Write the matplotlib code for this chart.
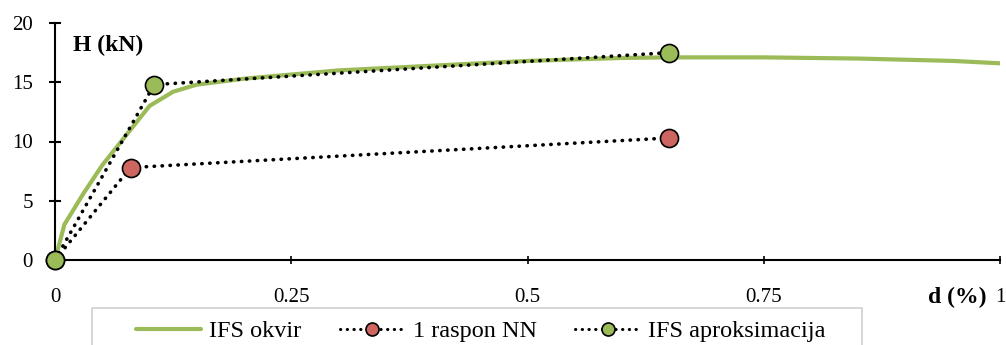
import matplotlib
matplotlib.use("Agg")
import matplotlib.pyplot as plt
from matplotlib.patches import Rectangle

# IFS okvir (pushover curve)
okvir_d = [0.0, 0.01, 0.03, 0.05, 0.075, 0.1, 0.125, 0.15, 0.2, 0.3, 0.4, 0.5, 0.6, 0.65, 0.75, 0.85, 0.95, 1.0]
okvir_h = [0.0, 3.0, 5.6, 8.0, 10.5, 13.0, 14.2, 14.8, 15.3, 16.0, 16.4, 16.8, 17.05, 17.1, 17.1, 17.0, 16.8, 16.6]

# 1 raspon NN
nn_d = [0.0, 0.08, 0.65]
nn_h = [0.0, 7.8, 10.3]

# IFS aproksimacija
aprox_d = [0.0, 0.105, 0.65]
aprox_h = [0.0, 14.8, 17.5]

x_ticks = [0, 0.25, 0.5, 0.75, 1]
x_labels = ["0", "0.25", "0.5", "0.75", "1"]
y_ticks = [0, 5, 10, 15, 20]

GREEN = "#9bbb59"
RED = "#cd6660"
DOTTED = (0, (0.1, 2.1))

plt.rcParams["font.family"] = ["Liberation Serif", "DejaVu Serif"]

W, H = 1006, 345
fig = plt.figure(figsize=(W / 100, H / 100), dpi=100)
ax = fig.add_axes([55 / W, 1 - 260 / H, 945 / W, 237 / H])

ax.plot(okvir_d, okvir_h, color=GREEN, lw=3, solid_capstyle="round",
        label="IFS okvir", zorder=2)
dots = dict(color="black", lw=2.6, linestyle=DOTTED,
            dash_capstyle="round", marker="o", markersize=13,
            markeredgecolor="black", markeredgewidth=1.2, clip_on=False, zorder=3)
ax.plot(nn_d, nn_h, markerfacecolor=RED, label="1 raspon NN", **dots)
ax.plot(aprox_d, aprox_h, markerfacecolor=GREEN, label="IFS aproksimacija", **dots)

ax.set_xlim(0, 1)
ax.set_ylim(0, 20)
ax.set_xticks(x_ticks)
ax.set_xticklabels(x_labels)
ax.set_yticks(y_ticks)
for s in ["top", "right"]:
    ax.spines[s].set_visible(False)
for s in ["left", "bottom"]:
    ax.spines[s].set_linewidth(1.5)
ax.tick_params(axis="y", direction="inout", length=9, width=1.5, labelsize=15, pad=11.5)
ax.tick_params(axis="x", direction="inout", length=6, width=1.2, labelsize=15, pad=17)

fig.text(73 / W, 1 - 45 / H, "H (kN)", fontsize=17, fontweight="bold",
         ha="left", va="center")
fig.text(987 / W, 1 - 297 / H, "d (%)", fontsize=17, fontweight="bold",
         ha="right", va="center")

# legend frame (runs off the bottom of the picture)
fig.patches.append(Rectangle((92 / W, -0.05), 770 / W, 1 - 308 / H + 0.05,
                             transform=fig.transFigure, facecolor="white",
                             edgecolor="#d0d0d0", lw=1.2))
leg_handles, leg_labels = ax.get_legend_handles_labels()
leg = fig.legend(leg_handles, leg_labels, loc="center left",
                 bbox_to_anchor=(126 / W, 1 - 331 / H), ncol=3, frameon=False,
                 fontsize=17.5, handlelength=2.7, handletextpad=0.3,
                 columnspacing=1.6, markerscale=0.72, borderaxespad=0)
for line in leg.get_lines()[1:]:
    line.set_linewidth(2.2)

fig.savefig("out.png", dpi=100)
